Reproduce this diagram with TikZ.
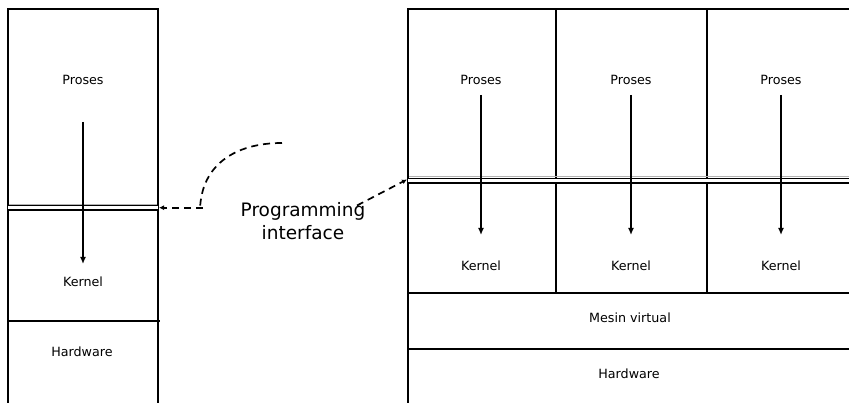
\documentclass[tikz,border=0pt]{standalone}
\usepackage{fontspec}
\setmainfont{DejaVu Sans}
\usetikzlibrary{positioning,arrows.meta}

\begin{document}
\begin{tikzpicture}
                [x=1pt, y=1pt,
                 layer/.style = {font=\fontsize{12.7}{15}\selectfont, inner sep=0pt},
                 wall/.style = {line width=1.6pt},
                 iface/.style = {line width=1.4pt, double distance=3pt},
                 seam/.style = {line width=0.7pt, color=gray!60},
                 call/.style = {-{Latex[length=7pt,width=6pt]}, line width=1.4pt},
                 link/.style = {-{Latex[length=5pt,width=5pt]}, dash pattern=on 7pt off 5pt, line width=1.7pt}]
                \useasboundingbox (0,0) rectangle (849,403);

                % a single machine
                \draw[wall] (8,0) -- (8,394) -- (158,394) -- (158,0);
                \draw[seam] (9,199) -- (157,199);
                \draw[iface] (8,195.3) -- (158,195.3);
                \draw[line width=2.5pt] (8,82) -- (160,82);

                \node[layer] (procL) at (83,323) {Proses};
                \node[layer] (kernL) at (83,121) {Kernel};
                \node[layer] (hwL) at (82,51) {Hardware};

                \draw[call] ([yshift=-42pt]procL.center) -- ([yshift=18pt]kernL.center);

                % machine with three virtual machines
                \draw[wall] (408,0) -- (408,394) -- (849,394);
                \draw[wall] (556,394) -- (556,110);
                \draw[wall] (707,394) -- (707,110);
                \draw[seam] (409,226.3) -- (849,226.3);
                \draw[iface] (408,222) -- (849,222);
                \draw[wall] (408,110) -- (849,110);
                \draw[wall] (408,54) -- (849,54);

                \node[layer] (proc1) at (481,323) {Proses};
                \node[layer] (proc2) at (631,323) {Proses};
                \node[layer] (proc3) at (781,323) {Proses};
                \node[layer] (kern1) at (481,137) {Kernel};
                \node[layer] (kern2) at (631,137) {Kernel};
                \node[layer] (kern3) at (781,137) {Kernel};
                \node[layer] (vm) at (630,85) {Mesin virtual};
                \node[layer] (hwR) at (629,29) {Hardware};

                \draw[call] ([yshift=-15pt]proc1.center) -- ([yshift=31pt]kern1.center);
                \draw[call] ([yshift=-15pt]proc2.center) -- ([yshift=31pt]kern2.center);
                \draw[call] ([yshift=-15pt]proc3.center) -- ([yshift=31pt]kern3.center);

                % the programming interface label and its pointers
                \node[align=center, font=\fontsize{18.5}{23}\selectfont, inner sep=0pt] (api) at (303,181.5) {Programming\\interface};
                \coordinate (tail) at (282,260);
                \coordinate (bend) at (200,193);
                \coordinate (knee) at (203,195.3);
                \coordinate (ifL) at (159,195.3);
                \coordinate (ifR) at (407,223.5);

                \draw[link, -] (tail) .. controls (235,260) and (201,238) .. (bend);
                \draw[link] (knee) -- (ifL);
                \draw[link] ([xshift=54pt,yshift=16pt]api.center) -- (ifR);
\end{tikzpicture}
\end{document}
